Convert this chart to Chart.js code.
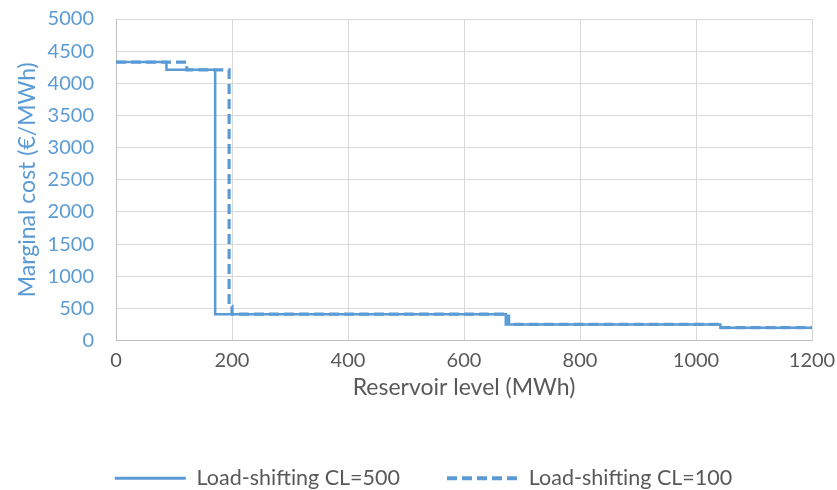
<!DOCTYPE html>
<html><head><meta charset="utf-8">
<script src="https://cdn.jsdelivr.net/npm/chart.js@4/dist/chart.umd.min.js"></script>
<style>html,body{margin:0;padding:0;background:#fff}#wrap{width:837px;height:490px}</style>
</head><body><div id="wrap"><canvas id="c" width="837" height="490"></canvas></div>
<script>
// Breakpoints of the step curves (reservoir level MWh -> marginal cost €/MWh)
const solidX = [0, 87, 171, 672, 1042, 1200];
const solidY = [4330, 4210, 410, 250, 200, 200];
const dashX = [0, 122, 195, 200, 677, 1042, 1200];
const dashY = [4330, 4210, 530, 410, 250, 200, 200];
const seriesNames = ['Load-shifting CL=500', 'Load-shifting CL=100'];
const xTitle = 'Reservoir level (MWh)';
const yTitle = 'Marginal cost (€/MWh)';

const BLUE = '#5B9BD5';
const GREY = '#595959';
const FONT = 'Lato, "Open Sans", sans-serif';

const toPts = (xs, ys) => xs.map((x, i) => ({x: x, y: ys[i]}));

new Chart(document.getElementById('c'), {
  type: 'line',
  data: {
    datasets: [
      {label: seriesNames[0], data: toPts(solidX, solidY), stepped: 'before',
       borderColor: BLUE, backgroundColor: BLUE, borderWidth: 2.5, pointRadius: 0, fill: false},
      {label: seriesNames[1], data: toPts(dashX, dashY), stepped: 'before',
       borderColor: BLUE, backgroundColor: BLUE, borderWidth: 3.2, borderDash: [10, 5], pointRadius: 0, fill: false}
    ]
  },
  options: {
    responsive: false, animation: false,
    layout: {padding: {left: 35, right: 25, top: 19, bottom: -9}},
    plugins: {
      tooltip: {enabled: false},
      legend: {
        position: 'bottom',
        labels: {
          usePointStyle: true, pointStyle: 'line', pointStyleWidth: 71, boxHeight: 6,
          color: GREY, font: {family: FONT, size: 21.5}, padding: 47,
          generateLabels: chart => chart.data.datasets.map((ds, i) => ({
            text: ds.label, fillStyle: ds.borderColor, strokeStyle: ds.borderColor,
            lineWidth: i === 0 ? 3 : 4, lineDash: ds.borderDash || [], pointStyle: 'line',
            hidden: false, datasetIndex: i, fontColor: GREY
          }))
        }
      }
    },
    scales: {
      x: {
        type: 'linear', min: 0, max: 1200,
        ticks: {stepSize: 200, color: GREY, font: {family: FONT, size: 20}, padding: 0,
                callback: v => String(v)},
        grid: {color: '#d9d9d9', drawTicks: true, tickLength: 8, tickColor: 'rgba(0,0,0,0)', lineWidth: 1},
        border: {color: '#bfbfbf'},
        title: {display: true, text: xTitle, color: GREY, font: {family: FONT, size: 23}, padding: {top: 4, bottom: 19}},
        afterFit: s => { s.height = 80; }
      },
      y: {
        min: 0, max: 5000,
        ticks: {stepSize: 500, color: BLUE, font: {family: FONT, size: 20}, padding: 0,
                callback: v => String(v)},
        grid: {color: '#d9d9d9', drawTicks: true, tickLength: 22, tickColor: 'rgba(0,0,0,0)', lineWidth: 1},
        border: {color: '#bfbfbf'},
        title: {display: true, text: yTitle, color: BLUE, font: {family: FONT, size: 23}, padding: {top: -21, bottom: 0}},
        afterFit: s => { s.width = 81; }
      }
    }
  }
});
</script></body></html>
